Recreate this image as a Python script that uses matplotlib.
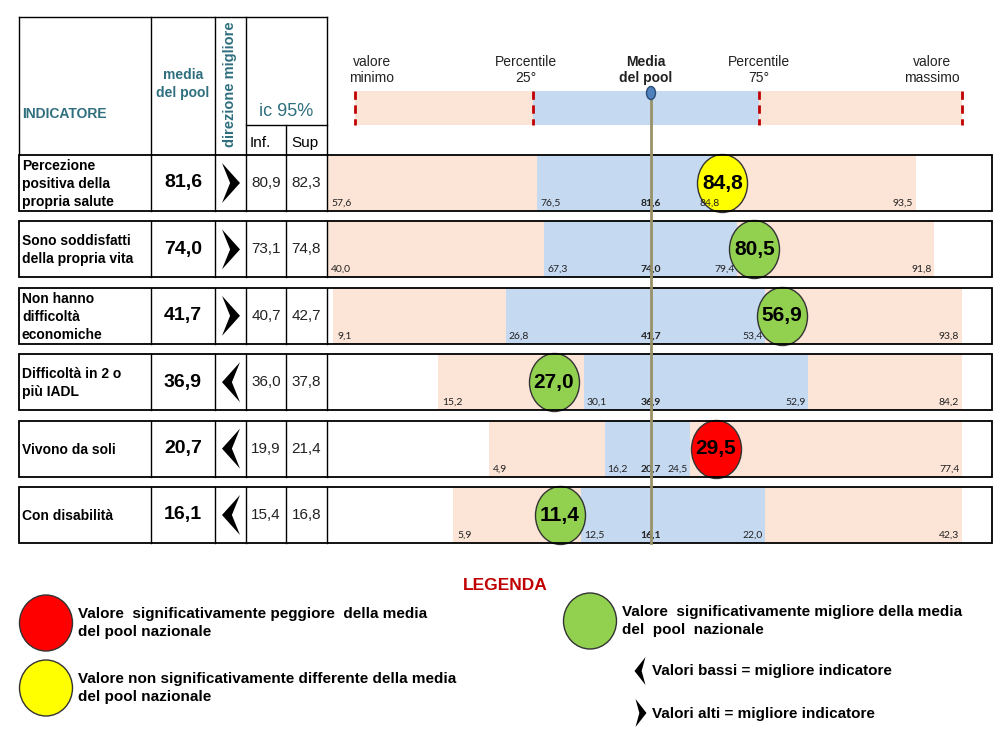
import numpy as np
import matplotlib
matplotlib.use("Agg")
import matplotlib.pyplot as plt
from matplotlib.patches import Rectangle, Ellipse, Polygon
from matplotlib.path import Path

# dati della tabella
indicatori = ["Percezione\npositiva della\npropria salute",
              "Sono soddisfatti\ndella propria vita",
              "Non hanno\ndifficoltà\neconomiche",
              "Difficoltà in 2 o\npiù IADL",
              "Vivono da soli",
              "Con disabilità"]
media_pool = [81.6, 74.0, 41.7, 36.9, 20.7, 16.1]
direzione = ["alto", "alto", "alto", "basso", "basso", "basso"]
ic_inf = [80.9, 73.1, 40.7, 36.0, 19.9, 15.4]
ic_sup = [82.3, 74.8, 42.7, 37.8, 21.4, 16.8]
valore_min = [57.6, 40.0, 9.1, 15.2, 4.9, 5.9]
perc_25 = [76.5, 67.3, 26.8, 30.1, 16.2, 12.5]
perc_75 = [84.8, 79.4, 53.4, 52.9, 24.5, 22.0]
valore_max = [93.5, 91.8, 93.8, 84.2, 77.4, 42.3]
valore_asl = [84.8, 80.5, 56.9, 27.0, 29.5, 11.4]
giudizio = ["uguale", "migliore", "migliore", "migliore", "peggiore", "migliore"]

COLORI = {"peggiore": "#ff0000", "uguale": "#ffff00", "migliore": "#92d050"}
PESCA = "#fce4d6"
AZZURRO = "#c5d9f1"
TEAL = "#2f6f7e"
ROSSO_SCURO = "#c00000"
LINEA_MEDIA = "#999268"

ARIAL = ["Liberation Sans", "DejaVu Sans"]
NARROW = ["Liberation Sans Narrow", "Liberation Sans", "DejaVu Sans"]
PICCOLO = ["Lato", "DejaVu Sans"]

# layout in pixel (figura 1000x732)
W, H = 1000, 732
X_COL = [19, 151, 215, 246, 286, 327]
X_DESTRA = 992
X_CENTRO = 651
X_LIMITE_DX = 962
RIGA_TOP = 155
RIGA_H = 56
RIGA_PASSO = 66.4
COMPRESSIONE = 0.5   # peso delle code quando si sceglie la scala centrale


def fmt(v):
    return f"{v:.1f}".replace(".", ",")


def scala_riga(mn, q1, mu, q3, mx):
    """scala a tratti: media al centro, code ridotte se non c'e' spazio"""
    c = COMPRESSIONE
    spazio_sx = X_CENTRO - X_COL[-1]
    spazio_dx = X_LIMITE_DX - X_CENTRO
    k = min(spazio_sx / ((mu - q1) + c * (q1 - mn)),
            spazio_dx / ((q3 - mu) + c * (mx - q3)))
    d1 = k * (q1 - mu)
    d3 = k * (q3 - mu)
    t_sx = min(k, (spazio_sx + d1) / (q1 - mn))
    t_dx = min(k, (spazio_dx - d3) / (mx - q3))

    def fwd(v):
        v = np.asarray(v, dtype=float)
        return np.where(v < q1, d1 + t_sx * (v - q1),
                        np.where(v > q3, d3 + t_dx * (v - q3), k * (v - mu)))

    def inv(d):
        d = np.asarray(d, dtype=float)
        return np.where(d < d1, q1 + (d - d1) / t_sx,
                        np.where(d > d3, q3 + (d - d3) / t_dx, mu + d / k))
    return fwd, inv


def chevron(ax, cx, cy, w, h, verso, notch=0.4):
    s = 1 if verso == "alto" else -1
    pts = [(cx - s * w / 2, cy - h / 2), (cx + s * w / 2, cy),
           (cx - s * w / 2, cy + h / 2), (cx - s * w / 2 + s * w * notch, cy)]
    ax.add_patch(Polygon(pts, closed=True, color="black", lw=0, zorder=6))


fig = plt.figure(figsize=(W / 100, H / 100), dpi=100)

# marker ellittico per i valori della ASL
cerchio = Path.unit_circle()
ellisse = Path(cerchio.vertices * np.array([1.0, 1.16]), cerchio.codes)

# barre di ogni riga
for i in range(len(indicatori)):
    top = RIGA_TOP + i * RIGA_PASSO
    ax = fig.add_axes([X_COL[-1] / W, 1 - (top + RIGA_H) / H,
                       (X_DESTRA - X_COL[-1]) / W, RIGA_H / H])
    mn, q1, mu, q3, mx = valore_min[i], perc_25[i], media_pool[i], perc_75[i], valore_max[i]
    fwd, inv = scala_riga(mn, q1, mu, q3, mx)
    ax.set_xscale("function", functions=(fwd, inv))
    ax.set_xlim(float(inv(X_COL[-1] - X_CENTRO)), float(inv(X_DESTRA - X_CENTRO)))
    ax.set_ylim(0, 1)
    ax.axis("off")

    ax.axvspan(mn, q1, color=PESCA, lw=0)
    ax.axvspan(q1, q3, color=AZZURRO, lw=0)
    ax.axvspan(q3, mx, color=PESCA, lw=0)

    # etichette dei valori in basso
    kw = dict(xycoords=("data", "axes fraction"), textcoords="offset points",
              va="bottom", fontsize=7.5, family=PICCOLO, color="#222222", zorder=7)
    ax.annotate(fmt(mn), xy=(mn, 0.06), xytext=(3, 0), ha="left", **kw)
    ax.annotate(fmt(q1), xy=(q1, 0.06), xytext=(2, 0), ha="left", **kw)
    ax.annotate(fmt(mu), xy=(mu, 0.06), xytext=(0, 0), ha="center", fontweight="bold", **kw)
    ax.annotate(fmt(q3), xy=(q3, 0.06), xytext=(-2, 0), ha="right", **kw)
    ax.annotate(fmt(mx), xy=(mx, 0.06), xytext=(-2, 0), ha="right", **kw)

    # valore della ASL
    ax.scatter([valore_asl[i]], [0.5], s=1745, marker=ellisse,
               facecolor=COLORI[giudizio[i]], edgecolor="#333333", lw=1,
               zorder=5, clip_on=False)
    ax.text(valore_asl[i], 0.5, fmt(valore_asl[i]), ha="center", va="center",
            fontsize=15, fontweight="bold", family=NARROW, zorder=6)

# livello sopra: tabella, testi, linea della media
ov = fig.add_axes([0, 0, 1, 1], zorder=10)
ov.set_xlim(0, W)
ov.set_ylim(H, 0)
ov.axis("off")
ov.patch.set_alpha(0)

# intestazione
ov.plot([X_COL[0], X_COL[-1]], [17, 17], color="black", lw=1)
for x in [X_COL[0], X_COL[1], X_COL[2], X_COL[3], X_COL[5]]:
    ov.plot([x, x], [17, RIGA_TOP], color="black", lw=1)
ov.plot([X_COL[3], X_COL[5]], [125, 125], color="black", lw=1)
ov.plot([X_COL[4], X_COL[4]], [125, RIGA_TOP], color="black", lw=1)

ov.text(22, 114, "INDICATORE", ha="left", va="center", fontsize=10,
        fontweight="bold", color=TEAL, family=ARIAL)
ov.text(183, 84, "media\ndel pool", ha="center", va="center", fontsize=10,
        fontweight="bold", color=TEAL, family=ARIAL, linespacing=1.3)
ov.text(230, 84, "direzione migliore", ha="center", va="center", rotation=90,
        fontsize=10.5, fontweight="bold", color=TEAL, family=ARIAL)
ov.text(286, 111, "ic 95%", ha="center", va="center", fontsize=13,
        color=TEAL, family=ARIAL)
ov.text(260, 143, "Inf.", ha="center", va="center", fontsize=11, family=NARROW)
ov.text(305, 143, "Sup", ha="center", va="center", fontsize=11, family=NARROW)

# schema in alto (min, p25, media, p75, max)
ov.add_patch(Rectangle((355, 91), 962 - 355, 34, color=PESCA, lw=0))
ov.add_patch(Rectangle((533, 91), 759 - 533, 34, color=AZZURRO, lw=0))
for x in [355, 533, 759, 962]:
    ov.plot([x, x], [91, 125], color=ROSSO_SCURO, lw=2, ls=(0, (3, 2)))
testi_schema = [(372, "valore\nminimo", "normal"), (526, "Percentile\n25°", "normal"),
                (646, "Media\ndel pool", "bold"), (759, "Percentile\n75°", "normal"),
                (932, "valore\nmassimo", "normal")]
for x, t, peso in testi_schema:
    ov.text(x, 70, t, ha="center", va="center", fontsize=10, fontweight=peso,
            family=ARIAL, color="#222222", linespacing=1.25)

# linea della media del pool
ov.plot([X_CENTRO, X_CENTRO], [93, RIGA_TOP + 5 * RIGA_PASSO + RIGA_H],
        color=LINEA_MEDIA, lw=2, zorder=3)
ov.add_patch(Ellipse((X_CENTRO, 93), 9, 13, facecolor="#4f81bd",
                     edgecolor="#2c4d75", lw=1, zorder=4))

# righe della tabella
for i in range(len(indicatori)):
    top = RIGA_TOP + i * RIGA_PASSO
    cy = top + RIGA_H / 2
    ov.add_patch(Rectangle((X_COL[0], top), X_DESTRA - X_COL[0], RIGA_H,
                           fill=False, edgecolor="black", lw=1.3))
    for x in X_COL[1:]:
        ov.plot([x, x], [top, top + RIGA_H], color="black", lw=1)
    ov.text(22, cy + 1, indicatori[i], ha="left", va="center", fontsize=10,
            fontweight="bold", family=ARIAL, linespacing=1.35)
    ov.text(183, cy, fmt(media_pool[i]), ha="center", va="center", fontsize=14,
            fontweight="bold", family=ARIAL)
    chevron(ov, 231, cy, 18, 40, direzione[i], notch=0.45)
    ov.text(266, cy, fmt(ic_inf[i]), ha="center", va="center", fontsize=11,
            family=ARIAL, color="#222222")
    ov.text(306.5, cy, fmt(ic_sup[i]), ha="center", va="center", fontsize=11,
            family=ARIAL, color="#222222")

# legenda
ov.text(505, 586, "LEGENDA", ha="center", va="center", fontsize=12.5,
        fontweight="bold", color=ROSSO_SCURO, family=NARROW)
voci = [(46, 623, "peggiore", "Valore  significativamente peggiore  della media\ndel pool nazionale"),
        (46, 688, "uguale", "Valore non significativamente differente della media\ndel pool nazionale"),
        (590, 621, "migliore", "Valore  significativamente migliore della media\ndel  pool  nazionale")]
for x, y, g, t in voci:
    ov.add_patch(Ellipse((x, y), 53, 56, facecolor=COLORI[g], edgecolor="#333333", lw=1))
    ov.text(x + 32, y, t, ha="left", va="center", fontsize=11, fontweight="bold",
            family=NARROW, linespacing=1.45)
chevron(ov, 640, 671, 11, 28, "basso", notch=0.35)
ov.text(652, 671, "Valori bassi = migliore indicatore", ha="left", va="center",
        fontsize=11, fontweight="bold", family=NARROW)
chevron(ov, 641, 713, 11, 28, "alto", notch=0.35)
ov.text(652, 714, "Valori alti = migliore indicatore", ha="left", va="center",
        fontsize=11, fontweight="bold", family=NARROW)

fig.savefig("out.png", dpi=100, facecolor="white")
